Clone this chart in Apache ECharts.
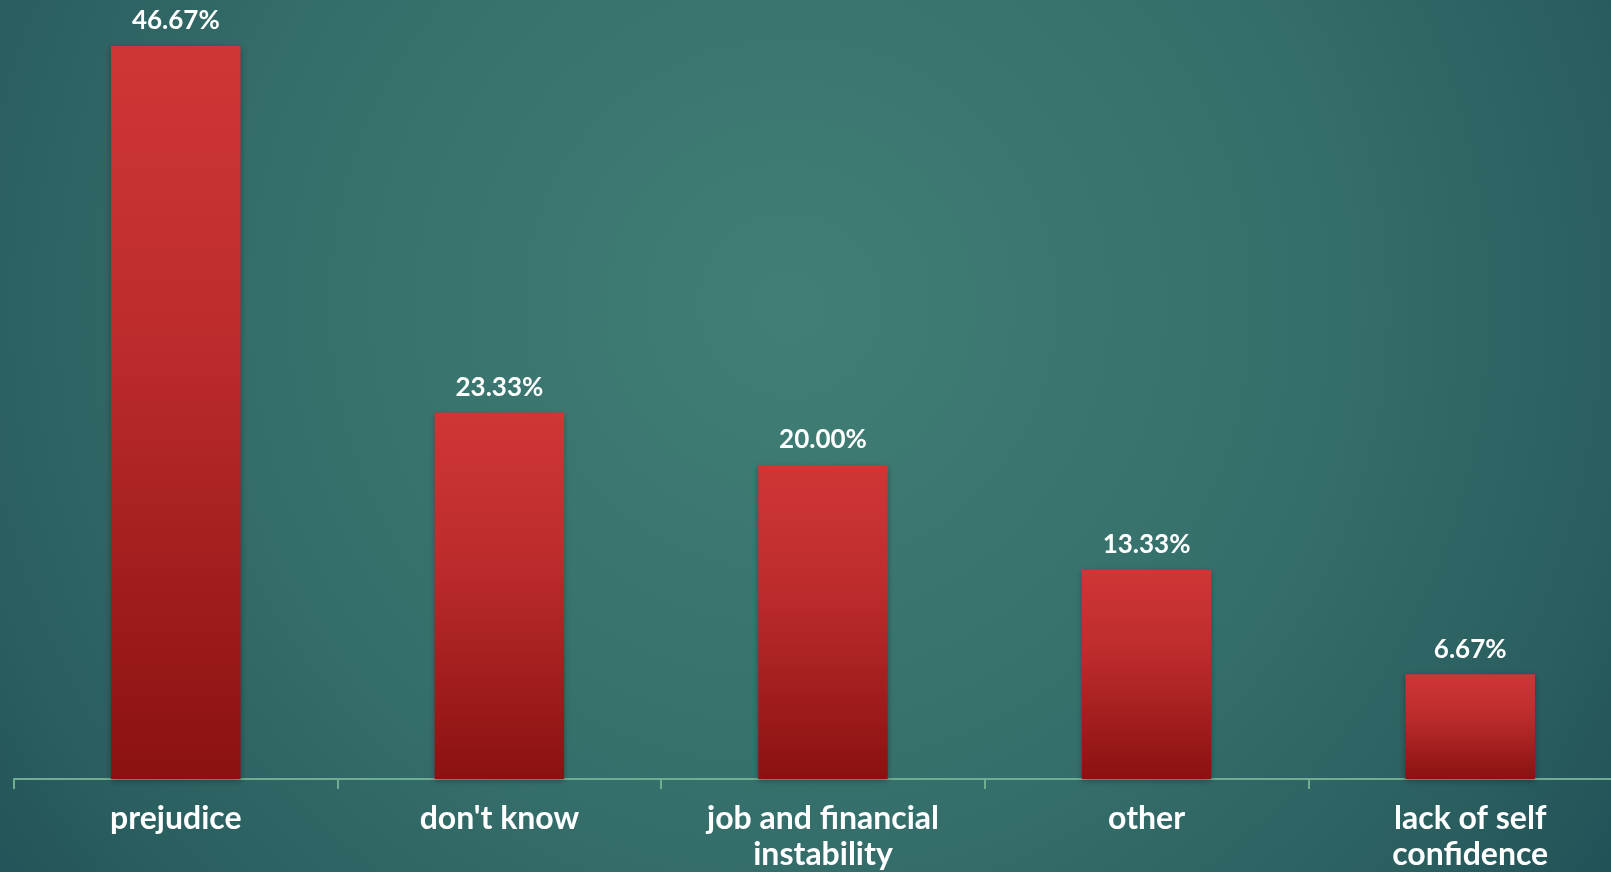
<!DOCTYPE html>
<html>
<head>
<meta charset="utf-8">
<script src="https://cdn.jsdelivr.net/npm/echarts@6/dist/echarts.min.js"></script>
<style>html,body{margin:0;padding:0;}#c{width:1611px;height:872px;}</style>
</head>
<body>
<div id="c"></div>
<script>
const categories = ['prejudice', "don't know", 'job and financial\ninstability', 'other', 'lack of self\nconfidence'];
const values = [46.67, 23.33, 20.00, 13.33, 6.67];

const chart = echarts.init(document.getElementById('c'));
chart.setOption({
  backgroundColor: {
    type: 'radial', x: 0.49, y: 0.35, r: 1.2,
    colorStops: [
      {offset: 0, color: '#417f75'},
      {offset: 0.5, color: '#356f6b'},
      {offset: 0.8, color: '#2a5e5f'},
      {offset: 1, color: '#1f4e55'}
    ]
  },
  animation: false,
  grid: {left: 14, top: 0, width: 1618, height: 779, outerBoundsMode: 'none'},
  xAxis: {
    type: 'category',
    data: categories,
    axisLine: {show: true, lineStyle: {color: '#6fae90', width: 2}},
    axisTick: {show: true, length: 10, lineStyle: {color: '#6fae90', width: 2}},
    axisLabel: {
      color: '#ffffff', fontFamily: 'Lato', fontWeight: 'bold', fontSize: 32,
      lineHeight: 36, margin: 22
    }
  },
  yAxis: {
    type: 'value', min: 0, max: 49.6, show: false,
    splitLine: {show: false}
  },
  series: [{
    type: 'bar',
    data: values,
    barWidth: '40%',
    itemStyle: {
      color: {
        type: 'linear', x: 0, y: 0, x2: 0, y2: 1,
        colorStops: [
          {offset: 0, color: '#cf3636'},
          {offset: 0.4, color: '#bd2c2c'},
          {offset: 1, color: '#8b1111'}
        ]
      },
      shadowColor: 'rgba(0,0,0,0.3)', shadowBlur: 6, shadowOffsetY: 2
    },
    label: {
      show: true, position: 'top', distance: 12,
      color: '#ffffff', fontFamily: 'Lato', fontWeight: 'bold', fontSize: 26,
      formatter: p => p.value.toFixed(2) + '%'
    }
  }]
});
</script>
</body>
</html>
